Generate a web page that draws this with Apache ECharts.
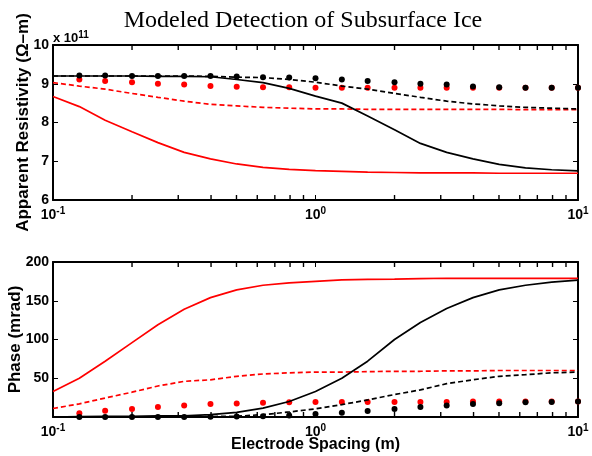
<!DOCTYPE html>
<html>
<head>
<meta charset="utf-8">
<script src="https://cdn.jsdelivr.net/npm/echarts@6/dist/echarts.min.js"></script>
<style>
  html, body { margin: 0; padding: 0; background: #fff; }
  #chart { width: 592px; height: 456px; }
</style>
</head>
<body>
<div id="chart"></div>
<script>
// electrode spacing (m), 10 points per decade
const spacing = [0.1, 0.126, 0.158, 0.2, 0.251, 0.316, 0.398, 0.501, 0.631, 0.794,
  1, 1.26, 1.58, 2, 2.51, 3.16, 3.98, 5.01, 6.31, 7.94, 10];

// apparent resistivity, in units of 1e11 ohm-m
const rhoRedSolid = [8.67, 8.41, 8.06, 7.76, 7.48, 7.23, 7.06, 6.93, 6.84, 6.79, 6.76,
  6.74, 6.72, 6.71, 6.70, 6.70, 6.70, 6.69, 6.69, 6.69, 6.69];
const rhoRedDashed = [9.03, 8.94, 8.86, 8.75, 8.65, 8.55, 8.47, 8.43, 8.39, 8.37, 8.35,
  8.35, 8.34, 8.34, 8.34, 8.34, 8.34, 8.34, 8.33, 8.33, 8.33];
const rhoBlackSolid = [9.2, 9.2, 9.2, 9.2, 9.19, 9.19, 9.18, 9.11, 9.03, 8.88, 8.68,
  8.5, 8.17, 7.81, 7.46, 7.23, 7.06, 6.92, 6.83, 6.78, 6.75];
const rhoBlackDashed = [9.2, 9.2, 9.2, 9.2, 9.2, 9.2, 9.19, 9.17, 9.16, 9.11, 9.04,
  8.94, 8.86, 8.75, 8.65, 8.55, 8.48, 8.43, 8.39, 8.37, 8.35];
const rhoRedDots = [null, 9.11, 9.07, 9.04, 9.0, 8.98, 8.94, 8.92, 8.91, 8.91, 8.9,
  8.9, 8.9, 8.9, 8.9, 8.9, 8.9, 8.9, 8.9, 8.9, 8.9];
const rhoBlackDots = [null, 9.21, 9.21, 9.2, 9.2, 9.2, 9.2, 9.19, 9.17, 9.16, 9.14,
  9.11, 9.07, 9.04, 9.0, 8.98, 8.93, 8.91, 8.9, 8.9, 8.9];

// phase, mrad
const phRedSolid = [33, 50, 72, 96, 119, 139, 154, 164, 170, 173, 175,
  177, 177.5, 178, 178.5, 179, 179, 179, 179, 179, 179];
const phRedDashed = [11, 17, 24.5, 32, 40, 46, 48, 52.5, 55.5, 57, 58,
  58, 58.5, 59, 59, 59.5, 59.5, 60, 60, 60, 60];
const phBlackSolid = [0, 0.5, 1, 1, 1.5, 1.5, 3, 6, 11.5, 20, 33,
  50, 72, 100, 122, 140, 154, 164, 170, 174, 176.5];
const phBlackDashed = [0, 0, 0, 0, 0.2, 0.4, 0.6, 1, 3, 6.5, 10.5,
  16, 22, 29, 35, 43, 48, 52.5, 54.6, 57, 58];
const phRedDots = [null, 5, 8, 10.3, 13, 15, 16.8, 17.5, 18.5, 19, 19.5,
  19.5, 19.5, 19.5, 19.5, 19.5, 20, 20, 20, 20, 20];
const phBlackDots = [null, 0, 0, 0, 0, 0, 0.2, 0.5, 1, 2, 4,
  5.5, 7.7, 10.3, 13, 15, 16.8, 17.6, 19, 19.5, 20];

const minorTicks = [0.2, 0.3, 0.4, 0.5, 0.6, 0.7, 0.8, 0.9, 2, 3, 4, 5, 6, 7, 8, 9];

const chart = echarts.init(document.getElementById('chart'), null, { renderer: 'canvas' });

const FONT = 'Liberation Sans';
const pairs = ys => spacing.map((x, i) => [x, ys[i]]);

const logLabel = {
  color: '#000',
  fontFamily: FONT,
  fontWeight: 'bold',
  fontSize: 14,
  margin: 6,
  formatter: v => '10{s|' + Math.round(Math.log10(v)) + '}',
  rich: {
    s: { fontFamily: FONT, fontWeight: 'bold', fontSize: 10, padding: [0, 0, 9, 0], color: '#000' }
  }
};

const frame = { show: true, onZero: false, lineStyle: { color: '#000', width: 2 } };
const tick = { show: true, inside: true, length: 5, lineStyle: { color: '#000', width: 1 } };

function xAxes(grid, pos, withLabel, extra) {
  return Object.assign({
    type: 'log', logBase: 10, min: 0.1, max: 10, gridIndex: grid, position: pos,
    axisLine: frame, axisTick: tick, splitLine: { show: false },
    axisLabel: withLabel ? logLabel : { show: false }
  }, extra || {});
}

function yAxes(grid, pos, min, max, interval, label, extra) {
  return Object.assign({
    type: 'value', min: min, max: max, interval: interval, gridIndex: grid, position: pos,
    axisLine: frame, axisTick: tick, splitLine: { show: false },
    axisLabel: label ? Object.assign({ color: '#000', fontFamily: FONT, fontWeight: 'bold', fontSize: 14, margin: 4 }, label) : { show: false }
  }, extra || {});
}

const nameStyle = { color: '#000', fontFamily: FONT, fontWeight: 'bold', fontSize: 17 };

// short inward ticks for the 2..9 sub-decades, as thin rect symbols on the log scale
function minorTickSeries(xi, yi, yLow, yHigh) {
  const base = {
    type: 'scatter', xAxisIndex: xi, yAxisIndex: yi, symbol: 'rect', symbolSize: [1.4, 5],
    itemStyle: { color: '#000', opacity: 1 }, silent: true, clip: false, z: 5
  };
  return [
    Object.assign({}, base, { data: minorTicks.map(v => [v, yLow]), symbolOffset: [0, -2.5] }),
    Object.assign({}, base, { data: minorTicks.map(v => [v, yHigh]), symbolOffset: [0, 2.5] })
  ];
}

function line(name, ys, color, dashed, xi, yi) {
  return {
    name: name, type: 'line', xAxisIndex: xi, yAxisIndex: yi, data: pairs(ys),
    symbol: 'none', lineStyle: { color: color, width: 1.7, type: dashed ? [5, 3] : 'solid' }
  };
}

function dots(name, ys, color, xi, yi) {
  return {
    name: name, type: 'scatter', xAxisIndex: xi, yAxisIndex: yi, data: pairs(ys),
    symbol: 'circle', symbolSize: 6, itemStyle: { color: color, opacity: 1 }
  };
}

const option = {
  animation: false,
  backgroundColor: '#fff',
  title: {
    text: 'Modeled Detection of Subsurface Ice',
    left: 298, top: 4, textAlign: 'center',
    textStyle: { fontFamily: 'Liberation Serif', fontWeight: 'normal', fontSize: 24, color: '#000' }
  },
  graphic: [{
    type: 'text', left: 53, top: 30,
    style: {
      text: 'x 10{s|11}',
      fontFamily: FONT, fontWeight: 'bold', fontSize: 13, fill: '#000',
      rich: { s: { fontFamily: FONT, fontWeight: 'bold', fontSize: 10, padding: [0, 0, 7, 0] } }
    }
  }],
  grid: [
    { left: 53, right: 14, top: 45, height: 155, outerBoundsMode: 'none', containLabel: false },
    { left: 53, right: 14, top: 262, height: 155, outerBoundsMode: 'none', containLabel: false }
  ],
  xAxis: [
    xAxes(0, 'bottom', true),
    xAxes(0, 'top', false),
    xAxes(1, 'bottom', true, {
      name: 'Electrode Spacing (m)', nameLocation: 'middle', nameGap: 20, nameMoveOverlap: false,
      nameTextStyle: Object.assign({}, nameStyle, { fontSize: 16 })
    }),
    xAxes(1, 'top', false)
  ],
  yAxis: [
    yAxes(0, 'left', 6, 10, 1, {}, {
      name: 'Apparent Resistivity (Ω–m)', nameLocation: 'middle', nameGap: 21, nameMoveOverlap: false,
      nameTextStyle: nameStyle
    }),
    yAxes(0, 'right', 6, 10, 1, null),
    yAxes(1, 'left', 0, 200, 50, { formatter: v => (v === 0 ? '' : v) }, {
      name: 'Phase (mrad)', nameLocation: 'middle', nameGap: 29, nameMoveOverlap: false,
      nameTextStyle: nameStyle
    }),
    yAxes(1, 'right', 0, 200, 50, null)
  ],
  series: [
    ...minorTickSeries(0, 0, 6, 10),
    ...minorTickSeries(2, 2, 0, 200),

    line('rho red solid', rhoRedSolid, '#ff0000', false, 0, 0),
    line('rho red dashed', rhoRedDashed, '#ff0000', true, 0, 0),
    line('rho black solid', rhoBlackSolid, '#000000', false, 0, 0),
    line('rho black dashed', rhoBlackDashed, '#000000', true, 0, 0),
    dots('rho red dots', rhoRedDots, '#ff0000', 0, 0),
    dots('rho black dots', rhoBlackDots, '#000000', 0, 0),

    line('phase red solid', phRedSolid, '#ff0000', false, 2, 2),
    line('phase red dashed', phRedDashed, '#ff0000', true, 2, 2),
    line('phase black solid', phBlackSolid, '#000000', false, 2, 2),
    line('phase black dashed', phBlackDashed, '#000000', true, 2, 2),
    dots('phase red dots', phRedDots, '#ff0000', 2, 2),
    dots('phase black dots', phBlackDots, '#000000', 2, 2)
  ]
};

chart.setOption(option);
</script>
</body>
</html>
